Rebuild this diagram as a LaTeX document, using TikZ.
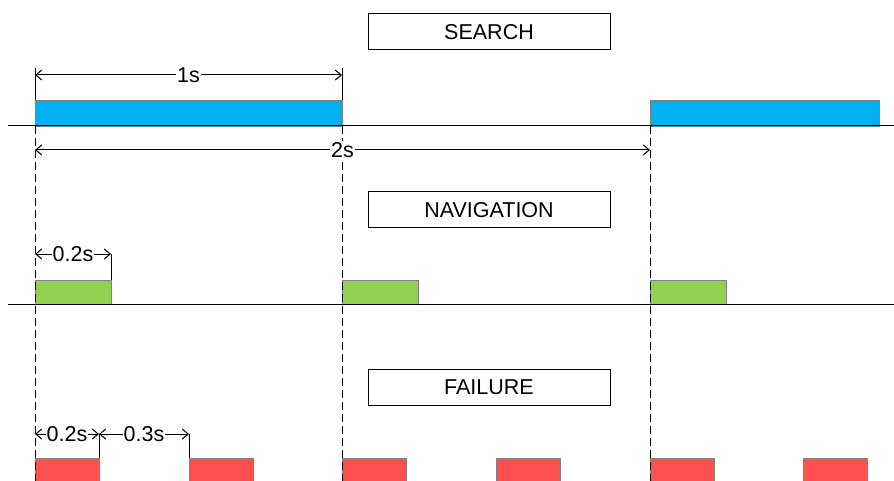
\documentclass[tikz,border=0pt]{standalone}
\usepackage{fontspec}
\setmainfont{Liberation Sans}
\usetikzlibrary{arrows.meta}
\definecolor{searchblue}{HTML}{00B0F0}
\definecolor{navgreen}{HTML}{92D050}
\definecolor{failred}{HTML}{FF5050}
\begin{document}
\begin{tikzpicture}[x=1pt, y=-1pt, line width=1pt, font=\fontsize{21.5}{24}\selectfont,
                    title/.style = {draw, minimum width=242pt, minimum height=36pt, inner sep=0pt},
                    lbl/.style = {fill=white, inner sep=1pt},
                    dim/.style = {{Straight Barb[length=6pt,width=10pt]}-{Straight Barb[length=6pt,width=10pt]}},
                    guide/.style = {dash pattern=on 8pt off 4pt},
                    bar/.style = {draw=gray, line width=0.8pt}]
                  \useasboundingbox (0,0) rectangle (894,481);
                  \clip (0,0) rectangle (894,481);
                  % titles
                  \node[title] (search) at (489,32) {SEARCH};
                  \node[title] (nav) at (489,210) {NAVIGATION};
                  \node[title] (fail) at (489,387.5) {FAILURE};
                  % bars
                  \draw[bar, fill=searchblue] (35,100) rectangle (342,126);
                  \draw[bar, fill=searchblue] (650,100) rectangle (879,126);
                  \foreach \t in {35,342,650}
                      \draw[bar, fill=navgreen] (\t,280) rectangle +(76,24);
                  \foreach \t in {35,189,342,496,650,803}
                      \draw[bar, fill=failred] (\t,458) rectangle +(64,30);
                  % time axes
                  \coordinate (sl) at (8,126);
                  \coordinate (sr) at (894,126);
                  \coordinate (nl) at (8,304);
                  \coordinate (nr) at (894,304);
                  \draw (sl) -- (sr);
                  \draw (nl) -- (nr);
                  % guides
                  \foreach \t in {35,342,650}
                      \draw[guide] (\t,126) -- (\t,481);
                  \draw (35,68) -- (35,100);
                  \draw (342,68) -- (342,100);
                  % search timing
                  \coordinate (s0) at (35,75);
                  \coordinate (s1) at (342,75);
                  \coordinate (p0) at (35,150);
                  \coordinate (p1) at (650,150);
                  \draw[dim] (s0) -- node[lbl] {1s} (s1);
                  \draw[dim] (p0) -- node[lbl] {2s} (p1);
                  % navigation timing
                  \coordinate (n0) at (35,254);
                  \coordinate (n1) at (111,254);
                  \draw[dim] (n0) -- node[lbl] {0.2s} (n1);
                  \draw (n1) -- (111,280);
                  % failure timing
                  \coordinate (f0) at (35,434);
                  \coordinate (f1) at (99,434);
                  \coordinate (f2) at (189,434);
                  \draw[dim] (f0) -- node[lbl] {0.2s} (f1);
                  \draw[dim] (f1) -- node[lbl] {0.3s} (f2);
                  \draw (f1) -- (99,458);
                  \draw (f2) -- (189,458);
              \end{tikzpicture}
\end{document}
